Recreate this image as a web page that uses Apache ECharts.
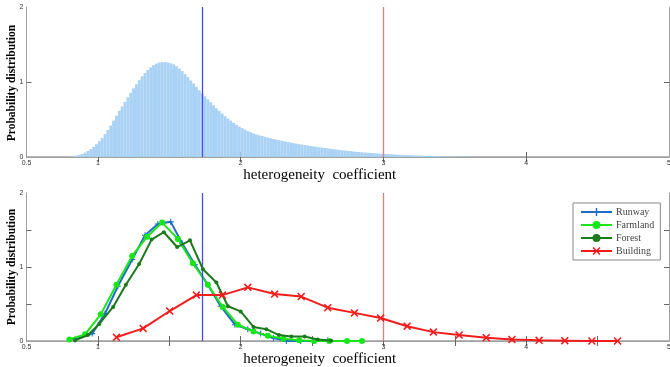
<!DOCTYPE html>
<html><head><meta charset="utf-8">
<script src="https://cdn.jsdelivr.net/npm/echarts@6/dist/echarts.min.js"></script>
<style>html,body{margin:0;padding:0;background:#fff}#c{width:670px;height:367px}</style>
</head><body><div id="c"></div>
<script>
// ---------- data ----------
const histStart = 0.79;       // centre of first bin
const histBinWidth = 0.02;
const histValues = [
0.002,0.005,0.01,0.018,0.028,0.04,0.058,0.08,0.105,0.135,
0.17,0.21,0.255,0.305,0.36,0.42,0.485,0.55,0.615,0.675,
0.735,0.795,0.855,0.915,0.97,1.025,1.075,1.12,1.16,1.195,
1.225,1.245,1.258,1.265,1.265,1.26,1.25,1.235,1.21,1.18,
1.145,1.105,1.065,1.02,0.98,0.935,0.89,0.85,0.81,0.77,
0.73,0.69,0.65,0.615,0.58,0.545,0.515,0.485,0.455,0.43,
0.405,0.385,0.365,0.345,0.33,0.315,0.30,0.29,0.28,0.27,
0.26,0.25,0.24,0.232,0.224,0.216,0.208,0.20,0.192,0.185,
0.178,0.171,0.165,0.159,0.153,0.147,0.141,0.136,0.13,0.125,
0.12,0.115,0.11,0.105,0.1,0.095,0.09,0.086,0.082,0.078,
0.074,0.07,0.067,0.063,0.06,0.057,0.054,0.051,0.048,0.045,
0.042,0.04,0.038,0.036,0.034,0.032,0.03,0.028,0.026,0.025,
0.023,0.022,0.02,0.019,0.018,0.016,0.015,0.014,0.013,0.012,
0.011,0.01,0.009,0.008,0.007,0.0065,0.006,0.005,0.0045,0.004,
0.0035,0.003,0.0025,0.002,0.0015,0.001
];

const runwayX   = [0.84,0.96,1.05,1.14,1.24,1.33,1.42,1.51,1.59,1.68,1.77,1.86,1.96,2.05,2.14,2.23,2.32,2.42,2.51,2.61];
const runwayY   = [0.02,0.10,0.37,0.74,1.10,1.43,1.58,1.61,1.32,1.03,0.76,0.47,0.22,0.16,0.10,0.04,0.00,0.00,0.00,0.01];
const farmlandX = [0.80,0.91,1.02,1.13,1.24,1.345,1.45,1.56,1.665,1.77,1.875,1.98,2.09,2.19,2.30,2.41,2.515,2.62,2.745,2.85];
const farmlandY = [0.02,0.09,0.36,0.76,1.15,1.41,1.60,1.38,1.05,0.76,0.46,0.22,0.13,0.07,0.03,0.01,0.00,0.00,0.00,0.00];
const forestX   = [0.84,0.93,1.01,1.107,1.196,1.289,1.376,1.462,1.555,1.645,1.736,1.83,1.911,2.00,2.09,2.18,2.268,2.355,2.448,2.54,2.634];
const forestY   = [0.01,0.08,0.23,0.46,0.76,1.04,1.37,1.47,1.27,1.36,0.97,0.79,0.47,0.40,0.19,0.16,0.08,0.06,0.06,0.02,0.005];
const buildingX = [1.13,1.317,1.503,1.69,1.872,2.05,2.238,2.424,2.61,2.797,2.98,3.166,3.35,3.53,3.72,3.90,4.09,4.27,4.46,4.64];
const buildingY = [0.05,0.17,0.405,0.62,0.62,0.725,0.635,0.60,0.45,0.38,0.31,0.20,0.12,0.08,0.045,0.02,0.01,0.005,0.0,0.0];

const seriesNames = ['Runway','Farmland','Forest','Building'];
const thresholdBlue = 1.73;
const thresholdRed = 3.0;

const xLabelValues = [0.5,1,2,3,4,5];
const topXTickValues = [1,2,3,4];
const bottomXTickValues = [1,1.5,2,2.5,3,3.5,4,4.5];
const yLabelValues = [0,1,2];
const topYTickValues = [1];
const bottomYTickValues = [0.5,1,1.5];

const xAxisName = 'heterogeneity  coefficient';
const yAxisName = 'Probability distribution';

// ---------- chart ----------
const zip = (xs, ys) => xs.map((x, i) => [x, ys[i]]);
const histData = histValues.map((v, i) => [+(histStart + i * histBinWidth).toFixed(3), v]);

const frame = '#a0a0a0';
const tickFont = {fontFamily: 'Liberation Sans', fontSize: 7, color: '#333'};
const plusSym = 'path://M-1,-0.18H1V0.18H-1Z M-0.18,-1H0.18V1H-0.18Z';
const xSym = 'path://M-1,-0.72L-0.72,-1L0,-0.28L0.72,-1L1,-0.72L0.28,0L1,0.72L0.72,1L0,0.28L-0.72,1L-1,0.72L-0.28,0Z';

function mainX(gi, ticks, nameGap) {
  return {
    type: 'value', gridIndex: gi, min: 0.5, max: 5, interval: 0.5, position: 'bottom',
    axisLine: {show: true, lineStyle: {color: frame, width: 1.5}},
    axisTick: {show: true, inside: true, length: 5, customValues: ticks, lineStyle: {color: '#666'}},
    axisLabel: {show: true, customValues: xLabelValues, margin: 3, ...tickFont,
      formatter: v => String(v)},
    splitLine: {show: false},
    name: xAxisName, nameLocation: 'middle', nameGap: nameGap,
    nameTextStyle: {fontFamily: 'Liberation Serif', fontSize: 15, color: '#000',
      verticalAlign: 'top', padding: [0, 56, 0, 0]}
  };
}
function mirrorX(gi, ticks) {
  return {
    type: 'value', gridIndex: gi, min: 0.5, max: 5, interval: 0.5, position: 'top',
    axisLine: {show: true, lineStyle: {color: frame, width: 1}},
    axisTick: {show: true, inside: true, length: 5, customValues: ticks, lineStyle: {color: '#666'}},
    axisLabel: {show: false}, splitLine: {show: false}
  };
}
function mainY(gi, ticks) {
  return {
    type: 'value', gridIndex: gi, min: 0, max: 2, interval: 0.5, position: 'left',
    axisLine: {show: true, lineStyle: {color: frame, width: 1}},
    axisTick: {show: true, inside: true, length: 5, customValues: ticks, lineStyle: {color: '#666'}},
    axisLabel: {show: true, customValues: yLabelValues, margin: 3, ...tickFont},
    splitLine: {show: false}
  };
}
function mirrorY(gi, ticks) {
  return {
    type: 'value', gridIndex: gi, min: 0, max: 2, interval: 0.5, position: 'right',
    axisLine: {show: true, lineStyle: {color: frame, width: 1}},
    axisTick: {show: true, inside: true, length: 5, customValues: ticks, lineStyle: {color: '#666'}},
    axisLabel: {show: false}, splitLine: {show: false}
  };
}
function vlines() {
  return {
    silent: true, symbol: ['none', 'none'], label: {show: false}, animation: false,
    data: [
      {xAxis: thresholdBlue, lineStyle: {color: '#4a4af5', width: 1.3, type: 'solid'}},
      {xAxis: thresholdRed, lineStyle: {color: '#f07878', width: 1.3, type: 'solid'}}
    ]
  };
}
function yName(cy) {
  return {
    type: 'text', x: 12, y: cy, rotation: Math.PI / 2, silent: true,
    style: {text: yAxisName, align: 'center', verticalAlign: 'middle',
      font: 'bold 11.5px "Liberation Serif"', fill: '#000'}
  };
}

const chart = echarts.init(document.getElementById('c'), null, {renderer: 'canvas'});
chart.setOption({
  animation: false,
  backgroundColor: '#fff',
  grid: [
    {left: 26.5, right: 1, top: 7, bottom: 210, containLabel: false, outerBoundsMode: 'none'},
    {left: 26.5, right: 1, top: 193, bottom: 26, containLabel: false, outerBoundsMode: 'none'}
  ],
  graphic: [yName(83), yName(267)],
  xAxis: [mainX(0, topXTickValues, 4), mirrorX(0, topXTickValues),
          mainX(1, bottomXTickValues, 3), mirrorX(1, bottomXTickValues)],
  yAxis: [mainY(0, topYTickValues), mirrorY(0, topYTickValues),
          mainY(1, bottomYTickValues), mirrorY(1, bottomYTickValues)],
  legend: {
    data: seriesNames, orient: 'vertical', left: 573, top: 203,
    itemWidth: 31, itemHeight: 10, itemGap: 3, padding: [4, 6, 4, 7],
    borderColor: '#888', borderWidth: 1, backgroundColor: '#fff',
    textStyle: {fontFamily: 'Liberation Serif', fontSize: 10, color: '#444', padding: [0,0,0,-1]}
  },
  series: [
    {type: 'bar', xAxisIndex: 0, yAxisIndex: 0, data: histData, barWidth: 2.9,
     itemStyle: {color: '#a9d2f5'}, markLine: vlines()},
    {type: 'line', name: seriesNames[0], xAxisIndex: 2, yAxisIndex: 2, data: zip(runwayX, runwayY),
     symbol: plusSym, symbolSize: 6, lineStyle: {color: '#1f6cc8', width: 2}, itemStyle: {color: '#1f6cc8'},
     markLine: vlines(), z: 3},
    {type: 'line', name: seriesNames[1], xAxisIndex: 2, yAxisIndex: 2, data: zip(farmlandX, farmlandY),
     symbol: 'circle', symbolSize: 6, lineStyle: {color: '#19e619', width: 2}, itemStyle: {color: '#19e619'}, z: 4},
    {type: 'line', name: seriesNames[2], xAxisIndex: 2, yAxisIndex: 2, data: zip(forestX, forestY),
     symbol: 'circle', symbolSize: 4, lineStyle: {color: '#1c7a1c', width: 2}, itemStyle: {color: '#1c7a1c'}, z: 5},
    {type: 'line', name: seriesNames[3], xAxisIndex: 2, yAxisIndex: 2, data: zip(buildingX, buildingY),
     symbol: xSym, symbolSize: 8, lineStyle: {color: '#f21c1c', width: 2}, itemStyle: {color: '#f21c1c'}, z: 6}
  ]
});
</script>
</body></html>
